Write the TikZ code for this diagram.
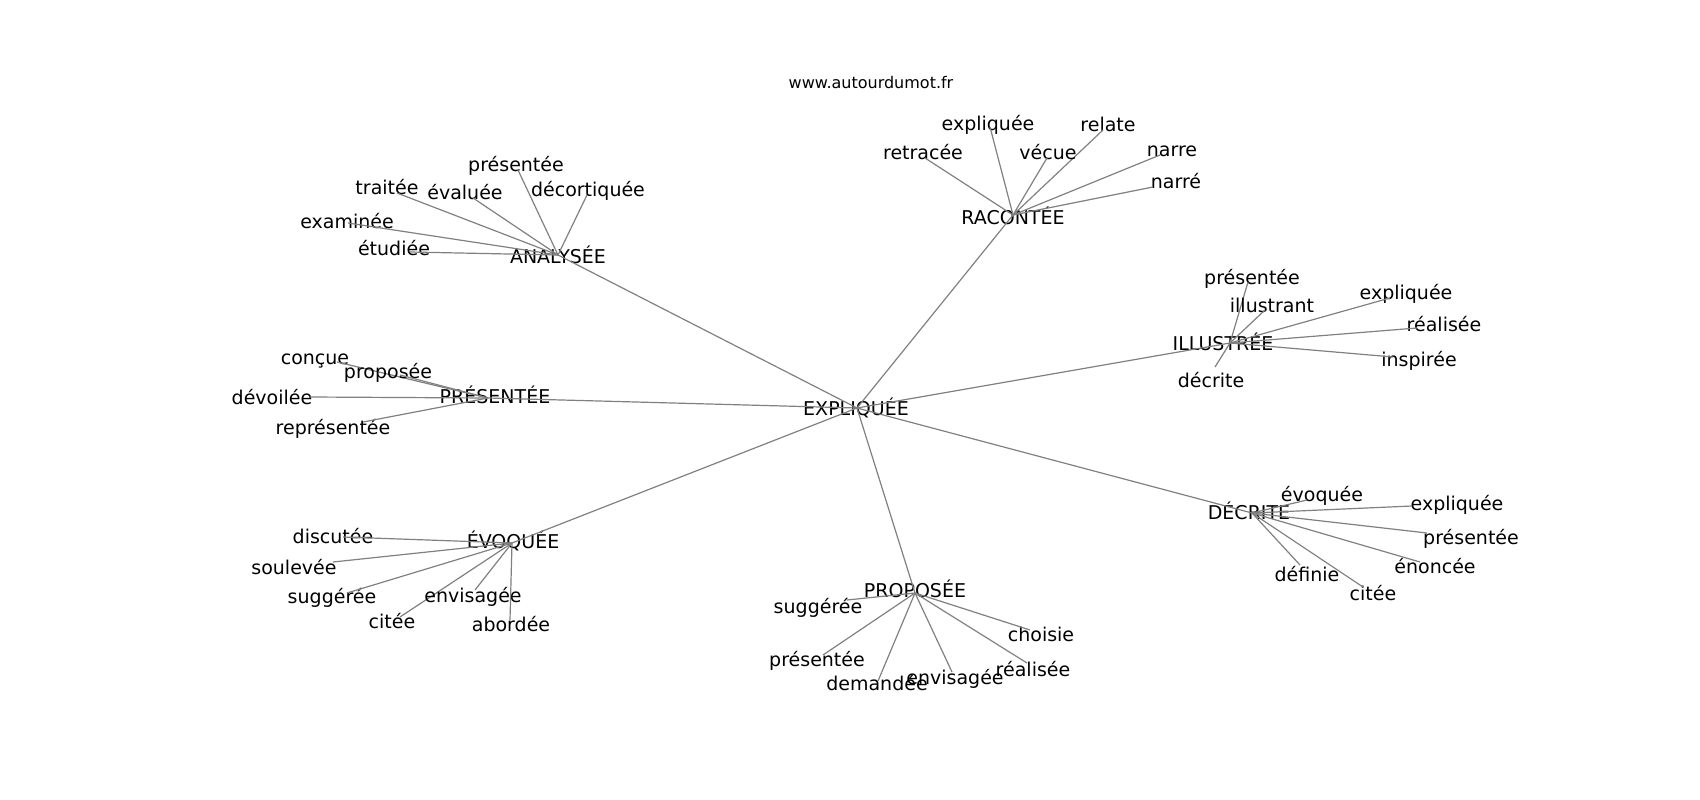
\documentclass[tikz,border=0pt]{standalone}
\usepackage{fontspec}
\setmainfont{DejaVu Sans}
\begin{document}
\begin{tikzpicture}[x=1pt,y=-1pt,
		edge/.style={draw=gray,line width=1.2pt},
		word/.style={inner sep=0pt,text height=0.74em,text depth=0pt,yshift=-4pt,font=\fontsize{19}{23}\selectfont}]
		\useasboundingbox (0,0) rectangle (1700,800);
		\node[inner sep=0pt,text height=0.74em,text depth=0pt,yshift=-2pt,font=\fontsize{16}{19}\selectfont] (site) at (871,83) {www.autourdumot.fr};
		% the centre and its hubs
		\coordinate (X) at (857,408) ; \node[word] (Xl) at (856,408) {EXPLIQUÉE};
		\coordinate (A) at (558,255) ; \node[word] (Al) at (558,256) {ANALYSÉE};
		\coordinate (R) at (1013,215); \node[word] (Rl) at (1013,217) {RACONTÉE};
		\coordinate (I) at (1230,343); \node[word] (Il) at (1223,343) {ILLUSTRÉE};
		\coordinate (D) at (1252,513); \node[word] (Dl) at (1249,512) {DÉCRITE};
		\coordinate (P) at (915,593) ; \node[word] (Pl) at (915,590) {PROPOSÉE};
		\coordinate (E) at (512,543) ; \node[word] (El) at (513,541) {ÉVOQUÉE};
		\coordinate (S) at (488,398) ; \node[word] (Sl) at (495,396) {PRÉSENTÉE};
		\draw[edge] (X) -- (A) (X) -- (R) (X) -- (I) (X) -- (D) (X) -- (P) (X) -- (E) (X) -- (S);
		% ANALYSÉE
		\coordinate (A1) at (518,170); \node[word] (A1l) at (516,164) {présentée};   \draw[edge] (A) -- (A1);
		\coordinate (A2) at (397,193); \node[word] (A2l) at (387,187) {traitée};     \draw[edge] (A) -- (A2);
		\coordinate (A3) at (473,198); \node[word] (A3l) at (465,192) {évaluée};     \draw[edge] (A) -- (A3);
		\coordinate (A4) at (587,195); \node[word] (A4l) at (588,189) {décortiquée}; \draw[edge] (A) -- (A4);
		\coordinate (A5) at (348,223); \node[word] (A5l) at (347,221) {examinée};    \draw[edge] (A) -- (A5);
		\coordinate (A6) at (410,252); \node[word] (A6l) at (394,248) {étudiée};     \draw[edge] (A) -- (A6);
		% RACONTÉE
		\coordinate (R1) at (990,127) ; \node[word] (R1l) at (988,123) {expliquée}; \draw[edge] (R) -- (R1);
		\coordinate (R2) at (1103,130); \node[word] (R2l) at (1108,124) {relate};   \draw[edge] (R) -- (R2);
		\coordinate (R3) at (925,158) ; \node[word] (R3l) at (923,152) {retracée};  \draw[edge] (R) -- (R3);
		\coordinate (R4) at (1047,158); \node[word] (R4l) at (1048,152) {vécue};    \draw[edge] (R) -- (R4);
		\coordinate (R5) at (1160,155); \node[word] (R5l) at (1172,149) {narre};    \draw[edge] (R) -- (R5);
		\coordinate (R6) at (1153,187); \node[word] (R6l) at (1176,181) {narré};    \draw[edge] (R) -- (R6);
		% ILLUSTRÉE
		\coordinate (I1) at (1248,282); \node[word] (I1l) at (1252,277) {présentée};  \draw[edge] (I) -- (I1);
		\coordinate (I2) at (1265,310); \node[word] (I2l) at (1272,305) {illustrant}; \draw[edge] (I) -- (I2);
		\coordinate (I3) at (1390,298); \node[word] (I3l) at (1406,292) {expliquée};  \draw[edge] (I) -- (I3);
		\coordinate (I4) at (1417,328); \node[word] (I4l) at (1444,324) {réalisée};   \draw[edge] (I) -- (I4);
		\coordinate (I5) at (1393,357); \node[word] (I5l) at (1419,359) {inspirée};   \draw[edge] (I) -- (I5);
		\coordinate (I6) at (1215,367); \node[word] (I6l) at (1211,380) {décrite};    \draw[edge] (I) -- (I6);
		% DÉCRITE
		\coordinate (D1) at (1307,500); \node[word] (D1l) at (1322,494) {évoquée};   \draw[edge] (D) -- (D1);
		\coordinate (D2) at (1412,506); \node[word] (D2l) at (1457,503) {expliquée}; \draw[edge] (D) -- (D2);
		\coordinate (D3) at (1427,533); \node[word] (D3l) at (1471,537) {présentée}; \draw[edge] (D) -- (D3);
		\coordinate (D4) at (1420,562); \node[word] (D4l) at (1435,566) {énoncée};   \draw[edge] (D) -- (D4);
		\coordinate (D5) at (1300,565); \node[word] (D5l) at (1307,574) {définie};   \draw[edge] (D) -- (D5);
		\coordinate (D6) at (1363,587); \node[word] (D6l) at (1373,593) {citée};     \draw[edge] (D) -- (D6);
		% PROPOSÉE
		\coordinate (P1) at (847,600) ; \node[word] (P1l) at (818,606) {suggérée};  \draw[edge] (P) -- (P1);
		\coordinate (P2) at (1030,630); \node[word] (P2l) at (1041,634) {choisie};  \draw[edge] (P) -- (P2);
		\coordinate (P3) at (823,655) ; \node[word] (P3l) at (817,659) {présentée}; \draw[edge] (P) -- (P3);
		\coordinate (P4) at (878,681) ; \node[word] (P4l) at (877,683) {demandée};  \draw[edge] (P) -- (P4);
		\coordinate (P5) at (952,672) ; \node[word] (P5l) at (955,677) {envisagée}; \draw[edge] (P) -- (P5);
		\coordinate (P6) at (1027,663); \node[word] (P6l) at (1033,669) {réalisée}; \draw[edge] (P) -- (P6);
		% ÉVOQUÉE
		\coordinate (E1) at (343,537); \node[word] (E1l) at (333,536) {discutée};  \draw[edge] (E) -- (E1);
		\coordinate (E2) at (333,562); \node[word] (E2l) at (294,567) {soulevée};  \draw[edge] (E) -- (E2);
		\coordinate (E3) at (347,593); \node[word] (E3l) at (332,596) {suggérée};  \draw[edge] (E) -- (E3);
		\coordinate (E4) at (400,617); \node[word] (E4l) at (392,621) {citée};     \draw[edge] (E) -- (E4);
		\coordinate (E5) at (475,590); \node[word] (E5l) at (473,595) {envisagée}; \draw[edge] (E) -- (E5);
		\coordinate (E6) at (510,620); \node[word] (E6l) at (511,624) {abordée};   \draw[edge] (E) -- (E6);
		% PRÉSENTÉE
		\coordinate (S1) at (337,362); \node[word] (S1l) at (315,357) {conçue};      \draw[edge] (S) -- (S1);
		\coordinate (S2) at (400,375); \node[word] (S2l) at (388,371) {proposée};    \draw[edge] (S) -- (S2);
		\coordinate (S3) at (310,397); \node[word] (S3l) at (272,397) {dévoilée};    \draw[edge] (S) -- (S3);
		\coordinate (S4) at (363,422); \node[word] (S4l) at (333,427) {représentée}; \draw[edge] (S) -- (S4);
	\end{tikzpicture}
\end{document}
